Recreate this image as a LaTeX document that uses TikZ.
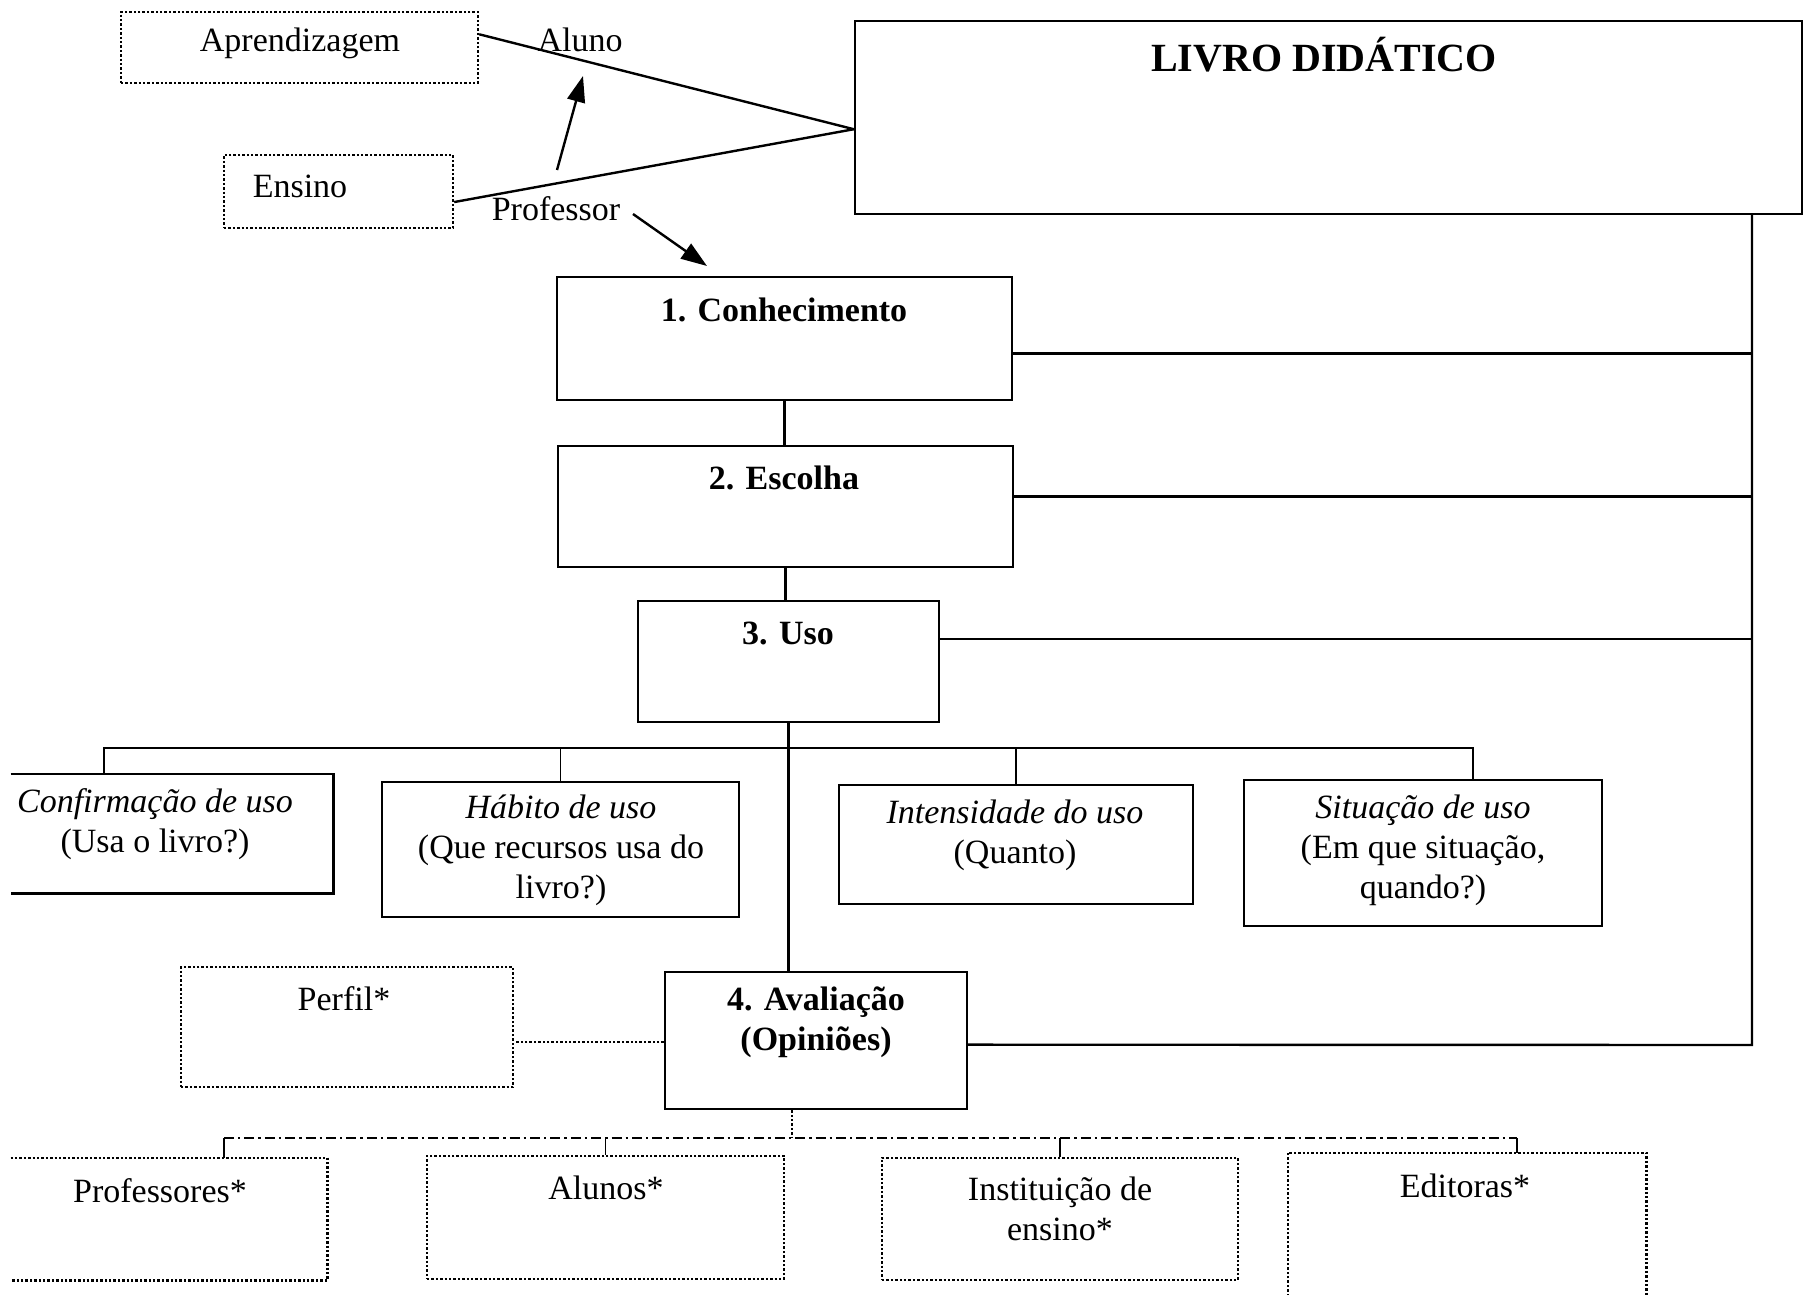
\documentclass[tikz,border=0pt]{standalone}
\usepackage{fontspec}
\setmainfont{Liberation Serif}
\usetikzlibrary{fit,calc,arrows.meta}
\begin{document}
\begin{tikzpicture}[x=0.5pt,y=-0.5pt,
  solidbox/.style={draw, line width=1.2pt, inner sep=0pt},
  dotbox/.style={draw, line width=1.2pt, densely dotted, inner sep=0pt},
  blank/.style={inner sep=0pt},
  conn/.style={line width=1.2pt},
  thinconn/.style={line width=0.9pt},
  dotline/.style={line width=1.2pt, densely dotted},
  dashdot/.style={line width=1.3pt, dash pattern=on 5pt off 2pt on 1.2pt off 2pt},
  txt/.style={font=\fontsize{17}{20}\selectfont, align=center, inner sep=0pt},
  btxt/.style={font=\fontsize{17}{20}\selectfont\bfseries, align=center, inner sep=0pt},
  tip/.style={-{Triangle[length=13pt,width=9pt]}}
]
\useasboundingbox (0,0) rectangle (1811,1295);
\fill[white] (0,0) rectangle (1811,1295);

% boxes
\node[dotbox, fit={(121,12)(478,83)}] (apr) {};
\node[dotbox, fit={(224,155)(453,228)}] (ens) {};
\node[solidbox, fit={(855,21)(1802,214)}] (livro) {};
\node[solidbox, fit={(557,277)(1012,400)}] (c1) {};
\node[solidbox, fit={(558,446)(1013,567)}] (c2) {};
\node[solidbox, fit={(638,601)(939,722)}] (c3) {};
\node[blank, fit={(11,774)(333,893)}] (conf) {};
\draw[line width=1.1pt] (conf.north west) -- (conf.north east) -- (conf.south east) -- (conf.south west);
\node[solidbox, fit={(382,782)(739,917)}] (hab) {};
\node[solidbox, fit={(839,785)(1193,904)}] (int) {};
\node[solidbox, fit={(1244,780)(1602,926)}] (sit) {};
\node[dotbox, fit={(181,967)(513,1087)}] (perf) {};
\node[solidbox, fit={(665,972)(967,1109)}] (aval) {};
\node[blank, fit={(11,1158)(327,1280)}] (prof) {};
\draw[dotline, line width=1.1pt] (prof.north west) -- (prof.north east) -- (prof.south east) -- (prof.south west);
\node[dotbox, fit={(427,1156)(784,1279)}] (alu) {};
\node[dotbox, fit={(882,1158)(1238,1280)}] (inst) {};
\node[blank, fit={(1288,1153)(1646,1300)}] (edit) {};
\draw[dotline, line width=1.1pt] (edit.south west) -- (edit.north west) -- (edit.north east) -- (edit.south east);

% texts
\node[txt] (tapr) at (300,43) {Aprendizagem};
\node[txt] (tens) at (300,186) {Ensino};
\node[txt] (talu) at (580,40) {Aluno};
\node[txt] (tprof) at (556,209) {Professor};
\node[font=\fontsize{20}{24}\selectfont\bfseries, inner sep=0pt] (tlivro) at (1324,55) {LIVRO DIDÁTICO};
\node[btxt] (tc1) at (784,310) {1. Conhecimento};
\node[btxt] (tc2) at (784,478) {2. Escolha};
\node[btxt] (tc3) at (788,633) {3. Uso};
\node[txt] (tconf) at (155,824) {\textit{Confirmação de uso}\\(Usa o livro?)};
\node[txt] (thab) at (561,850) {\textit{Hábito de uso}\\(Que recursos usa do\\livro?)};
\node[txt] (tint) at (1015,835) {\textit{Intensidade do uso}\\(Quanto)};
\node[txt] (tsit) at (1423,850) {\textit{Situação de uso}\\(Em que situação,\\quando?)};
\node[txt] (tperf) at (344,999) {Perfil*};
\node[btxt] (taval) at (816,1022) {4. Avaliação\\(Opiniões)};
\node[txt] (tprofs) at (160,1191) {Professores*};
\node[txt] (talus) at (606,1188) {Alunos*};
\node[txt] (tinst) at (1060,1209) {Instituição de\\ensino*};
\node[txt] (tedit) at (1465,1186) {Editoras*};

% top lines
\coordinate (lw) at ($(livro.north west)!0.56!(livro.south west)$);
\draw[conn] ($(apr.north east)!0.32!(apr.south east)$) -- (lw);
\draw[conn] ($(ens.north east)!0.64!(ens.south east)$) -- (lw);
\coordinate (ar1s) at (557,170);
\coordinate (ar1e) at (583,76);
\draw[conn, tip] (ar1s) -- (ar1e);
\coordinate (ar2s) at (633,214);
\coordinate (ar2e) at (707,266);
\draw[conn, tip] (ar2s) -- (ar2e);

% main chain
\draw[conn] (c1.south) -- (c1.south |- c2.north);
\draw[conn] (c2.south) -- (c2.south |- c3.north);
\draw[conn] (c3.south) -- (c3.south |- aval.north);

% right side
\coordinate (rv) at (1752,1045);
\draw[conn] ($(aval.north east)!0.53!(aval.south east)$) -- (rv) -- (rv |- livro.south);
\coordinate (r1) at ($(c1.north east)!0.62!(c1.south east)$);
\coordinate (r2) at ($(c2.north east)!0.42!(c2.south east)$);
\coordinate (r3) at ($(c3.north east)!0.32!(c3.south east)$);
\draw[conn] (r1) -- (r1 -| rv);
\draw[conn] (r2) -- (r2 -| rv);
\draw[conn] (r3) -- (r3 -| rv);

% bracket for uses
\coordinate (b1) at (104,748);
\coordinate (b4) at (1473,748);
\draw[conn] (conf.north -| b1) -- (b1) -- (b4) -- (sit.north -| b4);
\draw[thinconn] (hab.north) -- (hab.north |- b1);
\draw[thinconn] (int.north) -- (int.north |- b1);

% perfil link
\coordinate (pl) at ($(aval.north west)!0.51!(aval.south west)$);
\draw[dotline] (pl) -- (pl -| perf.east);

% bottom bracket
\coordinate (d0) at (792,1138);
\coordinate (d1) at (224,1138);
\coordinate (d4) at (1517,1138);
\draw[dotline, line width=0.9pt] (d0 |- aval.south) -- (d0);
\draw[dashdot] (d1) -- (d4);
\draw[thinconn] (d1) -- (d1 |- prof.north);
\draw[thinconn] (alu.north |- d1) -- (alu.north);
\draw[thinconn] (inst.north |- d1) -- (inst.north);
\draw[thinconn] (d4) -- (d4 |- edit.north);
\end{tikzpicture}
\end{document}
